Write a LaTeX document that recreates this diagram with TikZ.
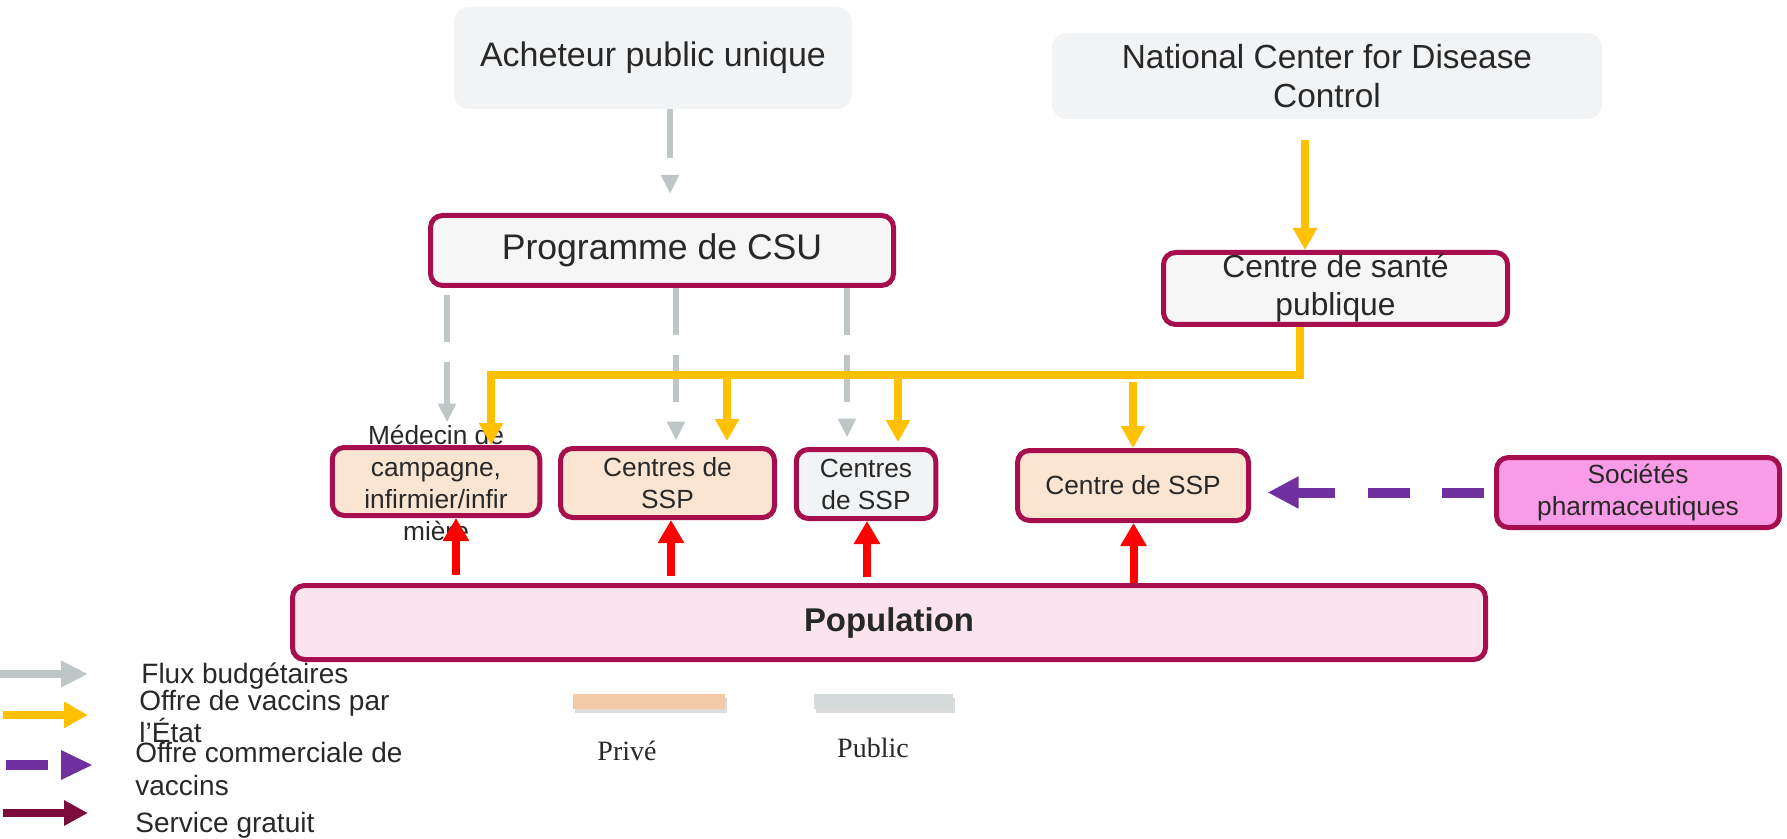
\documentclass[tikz,border=0pt]{standalone}
\usepackage{fontspec}
\setmainfont{Liberation Sans}
\newfontfamily\serifface{Liberation Serif}
\usetikzlibrary{arrows.meta}

\definecolor{boxline}{RGB}{166,14,78}
\definecolor{txt}{RGB}{40,40,40}
\definecolor{softgrey}{RGB}{242,243,245}
\definecolor{progfill}{RGB}{246,246,246}
\definecolor{peach}{RGB}{250,229,211}
\definecolor{popfill}{RGB}{251,228,238}
\definecolor{pinkfill}{RGB}{249,156,232}
\definecolor{flowgrey}{RGB}{191,198,200}
\definecolor{vacyellow}{RGB}{255,192,0}
\definecolor{purp}{RGB}{112,48,160}
\definecolor{gratis}{RGB}{123,12,59}
\definecolor{privbar}{RGB}{243,202,166}
\definecolor{pubbar}{RGB}{214,219,220}

\newcommand\fsz[2]{\fontsize{#1}{#2}\selectfont}

\begin{document}
\begin{tikzpicture}[x=0.5pt,y=-0.5pt,
  plainbox/.style={fill=softgrey, rounded corners=7.5pt, inner sep=0pt, align=center, text=txt},
  framed/.style={draw=boxline, line width=2.5pt, rounded corners=6pt, inner sep=0pt, align=center, text=txt},
  rowtext/.style={font=\fsz{13.15}{16}},
  garrow/.style={draw=flowgrey, line width=3pt, dash pattern=on 23.5pt off 10pt,
    -{Triangle[width=8.5pt,length=9.5pt]}},
  yarrow/.style={draw=vacyellow, line width=3.75pt, -{Triangle[width=11.5pt,length=11pt]}},
  rarrow/.style={draw=red, line width=4pt, -{Triangle[width=12.5pt,length=11.5pt]}},
  parrow/.style={draw=purp, line width=5pt, dash pattern=on 21pt off 16.25pt,
    -{Triangle[width=15pt,length=15.5pt]}},
  legendtext/.style={anchor=base west, inner sep=0pt, text=txt, font=\fsz{14}{16}, align=left}
]
\useasboundingbox (0,0) rectangle (1787,839);

% top sources
\node[plainbox, minimum width=199pt, minimum height=51pt, font=\fsz{17}{20}] (buyer) at (653,58) {Acheteur public unique};
\node[plainbox, minimum width=275pt, minimum height=43pt, font=\fsz{16.7}{19.5}] (ncdc) at (1327,76) {National Center for Disease\\Control};

% intermediate level
\node[framed, fill=progfill, minimum width=231.5pt, minimum height=35pt, font=\fsz{17.8}{21}] (prog) at (662,250.5) {Programme de CSU};
\node[framed, fill=progfill, minimum width=172pt, minimum height=36pt, font=\fsz{15.9}{19}] (csp) at (1335.5,288.5) {Centre de santé\\publique};

% providers
\node[framed, fill=peach, minimum width=103.75pt, minimum height=34pt] (medecin) at (436,481.5) {};
\node[rowtext, align=center, text=txt, inner sep=0pt] (medtext) at (436,482.5) {Médecin de\\campagne,\\infirmier/infir\\mière};
\node[framed, fill=peach, rowtext, minimum width=107pt, minimum height=34.5pt] (ssp2) at (667.5,483) {Centres de\\SSP};
\node[framed, fill=softgrey, rowtext, minimum width=69.75pt, minimum height=34.5pt] (ssp3) at (866,484) {Centres\\de SSP};
\node[framed, fill=peach, rowtext, minimum width=115.5pt, minimum height=35pt] (ssp4) at (1133,485.5) {Centre de SSP};
\node[framed, fill=pinkfill, rowtext, minimum width=141.5pt, minimum height=35pt] (soc) at (1638,492.5) {Sociétés\\pharmaceutiques};

% population
\node[framed, fill=popfill, minimum width=596.5pt, minimum height=37pt, font=\bfseries\fsz{16.45}{19}] (pop) at (889,622.5) {Population};

% budget flows
\coordinate (g0) at (670,0);
\coordinate (g1) at (447,0);
\coordinate (g2) at (676,0);
\coordinate (g3) at (847,0);
\draw[garrow, dash pattern=on 24.5pt off 9pt, shorten >=9.5pt] (buyer.south -| g0) -- (prog.north -| g0);
\draw[garrow, shorten <=3.5pt, shorten >=11.25pt] (prog.south -| g1) -- (medecin.north -| g1);
\draw[garrow, shorten >=2.75pt] (prog.south -| g2) -- (ssp2.north -| g2);
\draw[garrow, shorten >=4.75pt] (prog.south -| g3) -- (ssp3.north -| g3);

% state vaccine supply
\coordinate (nx) at (1305,0);
\coordinate (busR) at (1300,375);
\coordinate (busL) at (491,375);
\coordinate (b2) at (727,375);
\coordinate (b3) at (898,375);
\coordinate (b4) at (1133,375);
\draw[yarrow, shorten <=10.5pt] (ncdc.south -| nx) -- (csp.north -| nx);
\draw[yarrow, rounded corners=0pt] (csp.south -| busR) -- (busR) -- (busL) -- (medecin.north -| busL);
\draw[yarrow, shorten >=2.5pt] (b2) -- (ssp2.north -| b2);
\draw[yarrow, shorten >=2.5pt] (b3) -- (ssp3.north -| b3);
\draw[yarrow] ([yshift=-3.5pt]b4) -- (ssp4.north -| b4);

% commercial supply
\draw[parrow, shorten <=5pt, shorten >=8.25pt] (soc.west) -- (ssp4.east |- soc.west);

% free service
\coordinate (r1) at (456,0);
\coordinate (r2) at (671,0);
\coordinate (r3) at (867,0);
\coordinate (r4) at (1133.5,0);
\draw[rarrow, shorten <=4pt] (pop.north -| r1) -- (medecin.south -| r1);
\draw[rarrow, shorten <=3.5pt] (pop.north -| r2) -- (ssp2.south -| r2);
\draw[rarrow, shorten <=3pt] (pop.north -| r3) -- (ssp3.south -| r3);
\draw[rarrow] (pop.north -| r4) -- (ssp4.south -| r4);

% legend
\draw[flowgrey, line width=4pt, -{Triangle[width=12.5pt,length=13.5pt]}] (0,674) -- (88,674);
\draw[vacyellow, line width=4pt, -{Triangle[width=12.5pt,length=12pt]}] (3,715) -- (88,715);
\fill[purp] (6,760) rectangle (48,770);
\fill[purp] (61,750) -- (92,765) -- (61,780) -- cycle;
\draw[gratis, line width=4pt, -{Triangle[width=12pt,length=12pt]}] (3,813) -- (88,813);

\node[legendtext] (lflux) at (141,683) {Flux budgétaires};
\node[legendtext] (letat1) at (139,710) {Offre de vaccins par};
\node[legendtext] (letat2) at (139,742) {l’État};
\node[legendtext] (lcom1) at (135,762) {Offre commerciale de};
\node[legendtext] (lcom2) at (135,795) {vaccins};
\node[legendtext] (lgrat) at (135,832) {Service gratuit};

% sector key
\fill[black!30, opacity=0.45] (575,698) rectangle (727,713);
\fill[privbar] (573,694) rectangle (725,709);
\fill[black!30, opacity=0.45] (816,698) rectangle (955,713);
\fill[pubbar] (814,694) rectangle (953,709);
\node[anchor=base, inner sep=0pt, text=txt, font=\serifface\fsz{14}{16}] (lpriv) at (627,760) {Privé};
\node[anchor=base, inner sep=0pt, text=txt, font=\serifface\fsz{14}{16}] (lpub) at (873,757) {Public};
\end{tikzpicture}
\end{document}
